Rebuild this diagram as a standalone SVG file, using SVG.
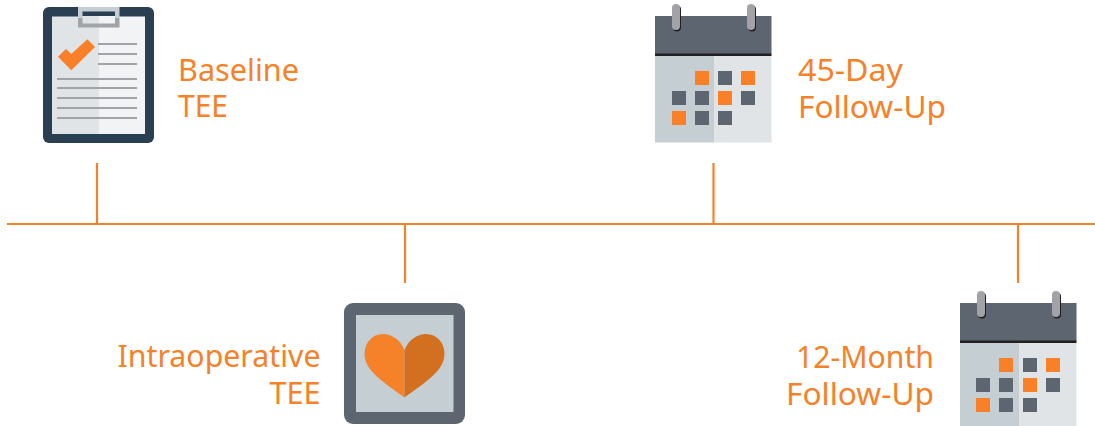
<svg xmlns="http://www.w3.org/2000/svg" width="1095" height="426" viewBox="0 0 1095 426">
<style>
text{font-family:"Noto Sans","Open Sans",sans-serif;font-size:30.500px;fill:#f58128}
.l{stroke:#f58128;stroke-width:2.200;fill:none}
.g{fill:#a1a3a8}
.o{fill:#f98026}
.d{fill:#5d6670}
</style>
<defs>
<g id="cal">
<rect x="0" y="0" width="116.500" height="38" fill="#5d6670"/>
<rect x="0" y="37.500" width="116.500" height="2.500" fill="#231f20"/>
<rect x="0" y="40" width="59" height="86.500" fill="#c5ced3"/>
<rect x="59" y="40" width="57.500" height="86.500" fill="#e0e4e7"/>
<rect x="18" y="-10.500" width="8" height="26" rx="4" fill="#231f20"/>
<rect x="17" y="-12" width="8" height="26" rx="4" fill="#a1a3a8"/>
<rect x="93" y="-10.500" width="8" height="26" rx="4" fill="#231f20"/>
<rect x="92" y="-12" width="8" height="26" rx="4" fill="#a1a3a8"/>
</g>
</defs>
<g id="connectors">
<path class="l" d="M7 224H1095M97 163V224M405 224V283M713.500 163V224M1018 224V283"/>
</g>
<g id="baseline">
<rect x="43" y="7" width="111" height="136" rx="6" fill="#2b3f52"/>
<rect x="52" y="16.500" width="47" height="117.500" fill="#e0e4e7"/>
<rect x="99" y="16.500" width="46" height="117.500" fill="#f2f3f5"/>
<path fill="#c5ced3" d="M78 7H119.500V18H78Z"/>
<path fill="#a1a3a8" d="M78 18H119.500V27.500H78Z"/>
<rect x="82.500" y="11.500" width="32.500" height="4.500" fill="#2b3f52"/>
<rect x="82.500" y="16" width="16.500" height="7.500" fill="#e0e4e7"/>
<rect x="99" y="16" width="16" height="7.500" fill="#f2f3f5"/>
<polygon class="o" points="58,56.700 66,49 71.300,54 87.300,39.300 95,47 71.300,70.300"/>
<path class="g" d="M98 43h39v2h-39zM98 53h39v2h-39zM98 63h39v2h-39zM57 78h80v2h-80zM57 87h80v2h-80zM57 97h80v2h-80zM57 107h80v2h-80zM57 117h80v2h-80z"/>
<text x="178" y="80.500" textLength="121" lengthAdjust="spacingAndGlyphs">Baseline</text>
<text x="178" y="117" textLength="50" lengthAdjust="spacingAndGlyphs">TEE</text>
</g>
<g id="intraoperative">
<rect x="344" y="303" width="121" height="121" rx="9" fill="#5d6670"/>
<rect x="356" y="315" width="97.500" height="97" fill="#c5ced3"/>
<path fill="#f58128" d="M404.500 350C400 339 391 334 383 334C372 334 364.500 343 364.500 354C364.500 371 385 383 404.500 397.500Z"/>
<path fill="#d2701f" d="M404.500 350C409 339 418 334 426 334C437 334 444.500 343 444.500 354C444.500 371 424 383 404.500 397.500Z"/>
<text x="320.500" y="367" text-anchor="end" textLength="203" lengthAdjust="spacingAndGlyphs">Intraoperative</text>
<text x="320.500" y="404" text-anchor="end" textLength="51" lengthAdjust="spacingAndGlyphs">TEE</text>
</g>
<g id="day45">
<use href="#cal" x="655" y="16"/>
<path class="o" d="M695 71h14v14h-14zM741 71h14v14h-14zM718 91h14v14h-14zM672 111h14v14h-14z"/>
<path class="d" d="M718 71h14v14h-14zM672 91h14v14h-14zM695 91h14v14h-14zM741 91h14v14h-14zM695 111h14v14h-14zM718 111h14v14h-14z"/>
<text x="798" y="81" textLength="105" lengthAdjust="spacingAndGlyphs">45-Day</text>
<text x="798" y="118" textLength="148" lengthAdjust="spacingAndGlyphs">Follow-Up</text>
</g>
<g id="month12">
<use href="#cal" x="960" y="303"/>
<path class="o" d="M999 358h14v14h-14zM1046 358h14v14h-14zM1023 378h14v14h-14zM976 398h14v14h-14z"/>
<path class="d" d="M1023 358h14v14h-14zM976 378h14v14h-14zM999 378h14v14h-14zM1046 378h14v14h-14zM999 398h14v14h-14zM1023 398h14v14h-14z"/>
<text x="934" y="368" text-anchor="end" textLength="138" lengthAdjust="spacingAndGlyphs">12-Month</text>
<text x="934" y="405" text-anchor="end" textLength="148" lengthAdjust="spacingAndGlyphs">Follow-Up</text>
</g>
</svg>
